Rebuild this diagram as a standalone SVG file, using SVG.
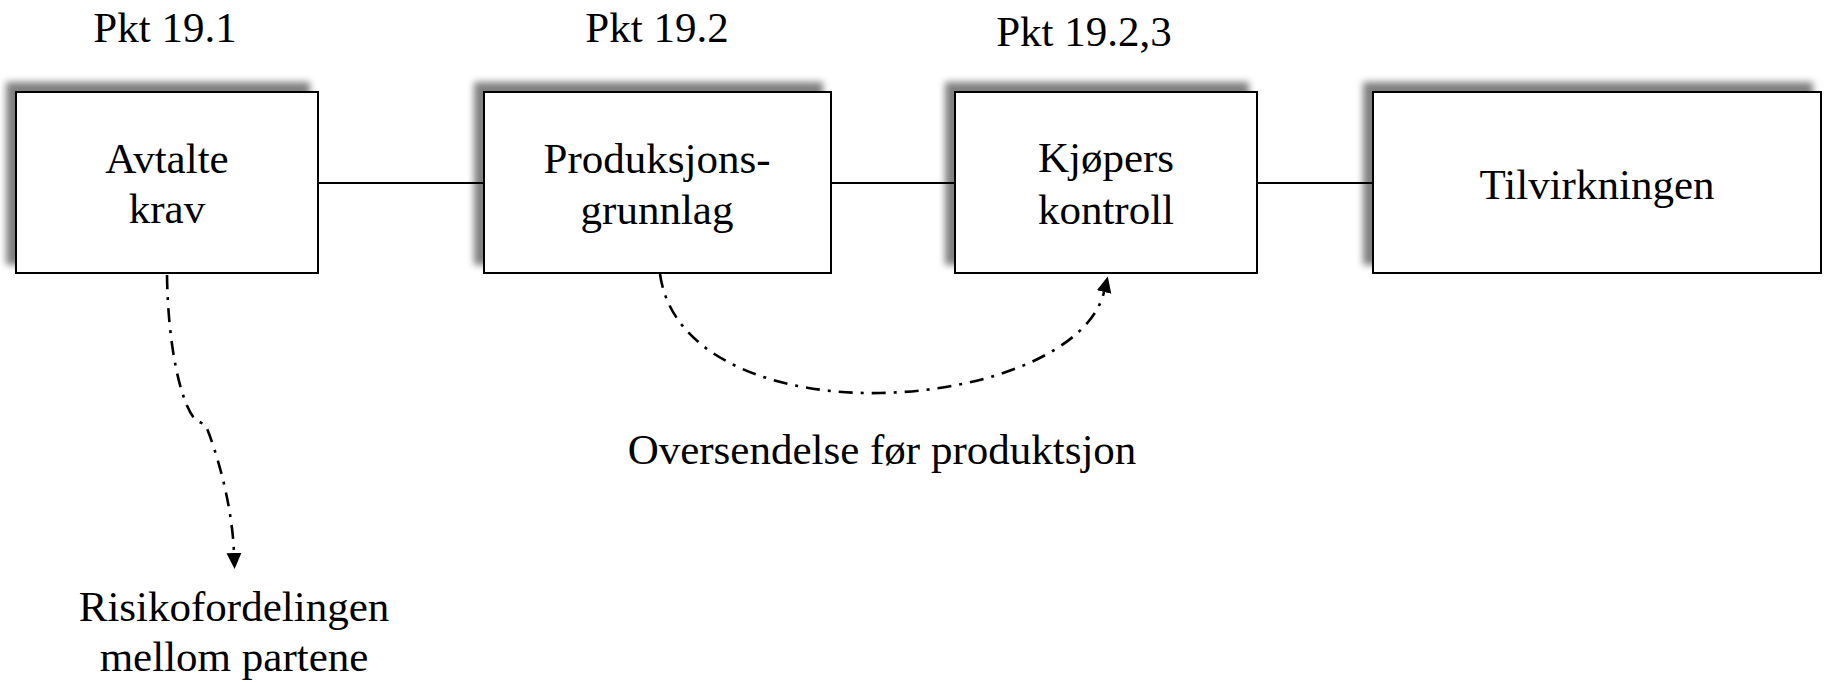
<svg xmlns="http://www.w3.org/2000/svg" width="1828" height="682" viewBox="0 0 1828 682">
<style>
text{font-family:"Liberation Serif","Times New Roman",serif;font-size:43px;fill:#000;text-anchor:middle}
.box{fill:#fff;stroke:#000;stroke-width:2;filter:url(#sh)}
.ln{stroke:#000;stroke-width:2;fill:none}
.dd{stroke:#000;stroke-width:2.6;fill:none;stroke-dasharray:14 8 3 8}
</style>
<defs>
<filter id="sh" x="-10%" y="-20%" width="120%" height="140%">
<feGaussianBlur in="SourceAlpha" stdDeviation="3.5" result="b"/>
<feOffset in="b" dx="-9" dy="-9" result="o"/>
<feComponentTransfer in="o" result="s"><feFuncA type="linear" slope="0.5"/></feComponentTransfer>
<feMerge><feMergeNode in="s"/><feMergeNode in="SourceGraphic"/></feMerge>
</filter>
<marker id="ah" markerUnits="userSpaceOnUse" markerWidth="18" markerHeight="16" refX="0" refY="7.5" orient="auto">
<path d="M0,0 L16,7.5 L0,15 z" fill="#000"/>
</marker>
</defs>
<g id="labels">
<text x="165" y="42">Pkt 19.1</text>
<text x="657" y="42">Pkt 19.2</text>
<text x="1084" y="46">Pkt 19.2,3</text>
</g>
<g id="connectors">
<line class="ln" x1="318" y1="183" x2="484" y2="183"/>
<line class="ln" x1="831" y1="183" x2="955" y2="183"/>
<line class="ln" x1="1257" y1="183" x2="1373" y2="183"/>
<path class="dd" d="M167,275 C168,345 180,400 194,418 C198,422 203,423 206,426 C214,445 232,500 234,553" marker-end="url(#ah)"/>
<path class="dd" d="M660,274 C672,360 780,395 880,393 C990,391 1090,350 1104,292" marker-end="url(#ah)"/>
</g>
<g id="n1">
<rect class="box" x="16" y="92" width="302" height="181"/>
<text x="167" y="173">Avtalte</text>
<text x="167" y="223">krav</text>
</g>
<g id="n2">
<rect class="box" x="484" y="92" width="347" height="181"/>
<text x="657" y="173">Produksjons-</text>
<text x="657" y="224">grunnlag</text>
</g>
<g id="n3">
<rect class="box" x="955" y="92" width="302" height="181"/>
<text x="1106" y="172">Kjøpers</text>
<text x="1106" y="224">kontroll</text>
</g>
<g id="n4">
<rect class="box" x="1373" y="92" width="448" height="181"/>
<text x="1597" y="199">Tilvirkningen</text>
</g>
<g id="notes">
<text x="882" y="464">Oversendelse før produktsjon</text>
<text x="234" y="621">Risikofordelingen</text>
<text x="234" y="671">mellom partene</text>
</g>
</svg>
